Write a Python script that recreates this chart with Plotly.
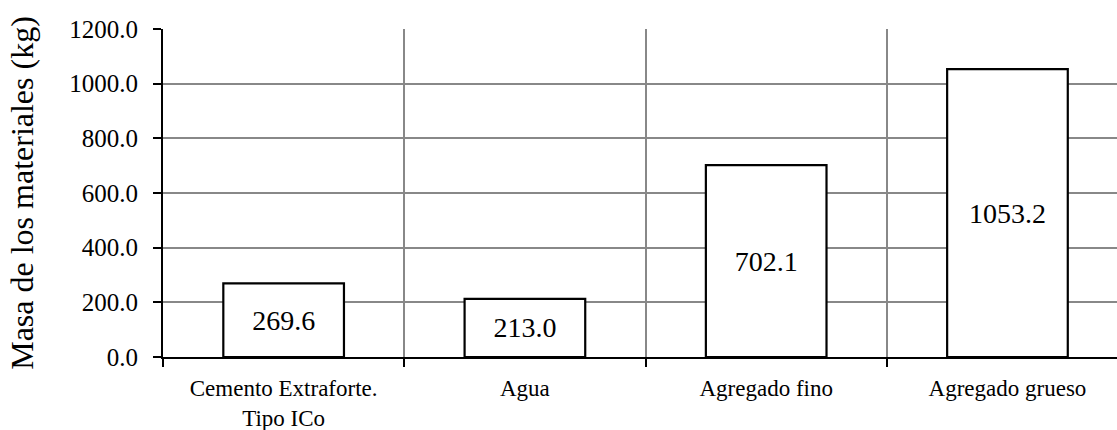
import plotly.graph_objects as go

categorias = ["Cemento Extraforte.<br>Tipo ICo", "Agua", "Agregado fino", "Agregado grueso"]
masas = [269.6, 213.0, 702.1, 1053.2]
ticks_y = [0, 200, 400, 600, 800, 1000, 1200]

FONT = "Liberation Serif, Times New Roman, serif"

fig = go.Figure(
    go.Bar(
        x=categorias,
        y=masas,
        width=0.5,
        marker=dict(color="white", line=dict(color="black", width=2.2)),
        text=[f"{v:.1f}" for v in masas],
        textposition="inside",
        insidetextanchor="middle",
        textangle=0,
        textfont=dict(family=FONT, size=28, color="black"),
        cliponaxis=False,
    )
)

fig.update_layout(
    width=1117,
    height=430,
    margin=dict(l=163, r=0, t=29, b=73),
    paper_bgcolor="white",
    plot_bgcolor="white",
    showlegend=False,
    font=dict(family=FONT, color="black"),
    uniformtext=dict(mode=False),
)

fig.update_xaxes(
    type="category",
    range=[-0.5, 3.454],
    tickson="boundaries",
    showgrid=True,
    gridcolor="#888888",
    gridwidth=1.5,
    ticks="outside",
    ticklen=8,
    tickwidth=2,
    tickcolor="black",
    showline=True,
    linecolor="black",
    linewidth=2,
    tickfont=dict(family=FONT, size=23, color="black"),
    ticklabelstandoff=9,
    zeroline=False,
)

fig.update_yaxes(
    range=[0, 1200],
    tickvals=ticks_y,
    ticktext=[f"{v:.1f}" for v in ticks_y],
    showgrid=True,
    gridcolor="#888888",
    gridwidth=1.5,
    ticks="outside",
    ticklen=8,
    tickwidth=2,
    tickcolor="black",
    showline=True,
    linecolor="black",
    linewidth=2,
    zeroline=False,
    tickfont=dict(family=FONT, size=25, color="black"),
    ticklabelstandoff=10,
    title=dict(text="Masa de los materiales (kg)", font=dict(family=FONT, size=32, color="black"), standoff=26),
)

fig.write_html("out.html")
